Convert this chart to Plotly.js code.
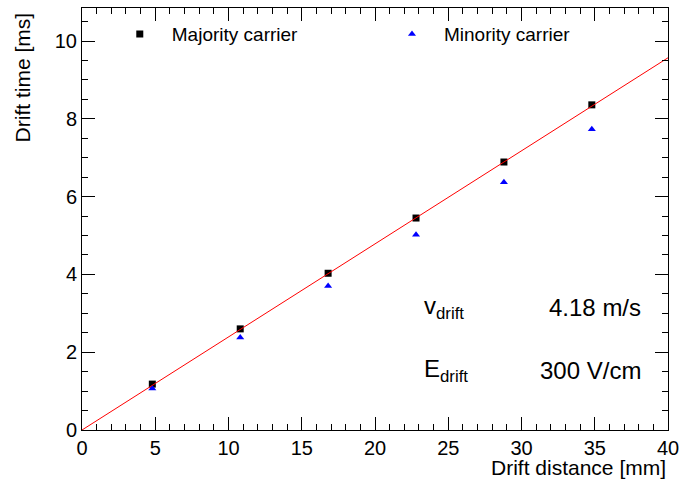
<!DOCTYPE html>
<html><head><meta charset="utf-8">
<script src="https://cdn.plot.ly/plotly-3.0.1.min.js"></script>
<style>html,body{margin:0;padding:0;background:#fff}#c{width:685px;height:479px}</style>
</head><body><div id="c"></div>
<script>
const distance = [4.8, 10.8, 16.8, 22.8, 28.8, 34.8];
const majorityTime = [1.18, 2.60, 4.03, 5.45, 6.89, 8.36];
const minorityTime = [1.07, 2.38, 3.70, 5.02, 6.37, 7.73];
const fitX = [0, 40];
const fitY = [0, 9.57];
const vDrift = '4.18 m/s';
const eDrift = '300 V/cm';

const F = 'Liberation Sans, Arial, Helvetica, sans-serif';
const traces = [
  {x: distance, y: majorityTime, mode: 'markers', name: 'Majority carrier', legend: 'legend',
   marker: {symbol: 'square', size: 7, color: '#000000'}},
  {x: distance, y: minorityTime, mode: 'markers', name: 'Minority carrier', legend: 'legend2',
   marker: {symbol: 'triangle-up', size: 7, color: '#0000ff'}},
  {x: fitX, y: fitY, mode: 'lines', line: {color: '#ff0000', width: 1}, showlegend: false, hoverinfo: 'skip'}
];

const axisCommon = {
  showgrid: false, zeroline: false, showline: true, linecolor: '#000', linewidth: 1,
  mirror: 'ticks', ticks: 'inside', tickcolor: '#000', ticklen: 13, tickwidth: 1,
  tickfont: {family: F, size: 20, color: '#000'}
};
const legendCommon = {yanchor: 'top', xanchor: 'left', y: 0.983, font: {family: F, size: 19, color: '#000'},
  bgcolor: 'rgba(0,0,0,0)', itemwidth: 54, borderwidth: 0};
const layout = {
  width: 685, height: 479,
  margin: {l: 82, r: 17, t: 8, b: 49},
  paper_bgcolor: '#fff', plot_bgcolor: '#fff',
  font: {family: F, color: '#000'},
  xaxis: Object.assign({}, axisCommon, {range: [0, 40], dtick: 5, tick0: 0,
    minor: {dtick: 1, ticks: 'inside', ticklen: 6, tickcolor: '#000', showgrid: false}}),
  yaxis: Object.assign({}, axisCommon, {range: [0, 10.85], dtick: 2, tick0: 0,
    minor: {dtick: 0.5, ticks: 'inside', ticklen: 6, tickcolor: '#000', showgrid: false}}),
  showlegend: true,
  legend: Object.assign({}, legendCommon, {x: 0.044}),
  legend2: Object.assign({}, legendCommon, {x: 0.5085}),
  annotations: [
    {xref: 'paper', yref: 'paper', x: 1, y: -0.09, xanchor: 'right', yanchor: 'middle',
     text: 'Drift distance [mm]', showarrow: false, font: {family: F, size: 21, color: '#000'}},
    {xref: 'paper', yref: 'paper', x: -0.102, y: 0.836, xanchor: 'center', yanchor: 'middle',
     textangle: -90, text: 'Drift time [ms]', showarrow: false, font: {family: F, size: 21, color: '#000'}},
    {xref: 'paper', yref: 'paper', x: 0.58, y: 0.29, xanchor: 'left', yanchor: 'middle',
     text: 'v<sub>drift</sub>', showarrow: false, font: {family: F, size: 24, color: '#000'}},
    {xref: 'paper', yref: 'paper', x: 0.957, y: 0.29, xanchor: 'right', yanchor: 'middle',
     text: vDrift, showarrow: false, font: {family: F, size: 24, color: '#000'}},
    {xref: 'paper', yref: 'paper', x: 0.58, y: 0.14, xanchor: 'left', yanchor: 'middle',
     text: 'E<sub>drift</sub>', showarrow: false, font: {family: F, size: 24, color: '#000'}},
    {xref: 'paper', yref: 'paper', x: 0.957, y: 0.14, xanchor: 'right', yanchor: 'middle',
     text: eDrift, showarrow: false, font: {family: F, size: 24, color: '#000'}}
  ]
};
Plotly.newPlot('c', traces, layout, {displayModeBar: false, staticPlot: true});
</script></body></html>
